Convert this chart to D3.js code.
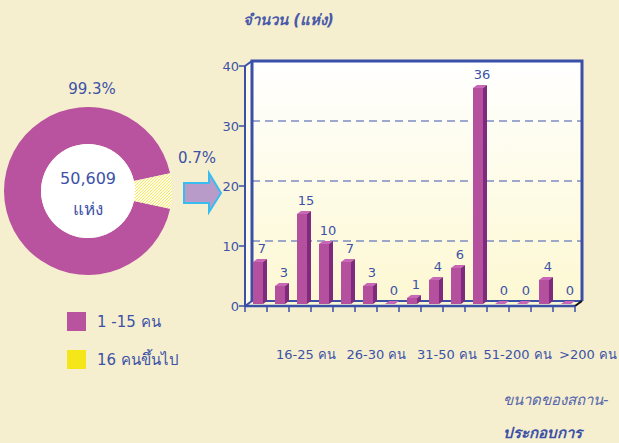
<!DOCTYPE html>
<html><head><meta charset="utf-8">
<script src="https://cdn.jsdelivr.net/npm/d3@7"></script>
<style>
html,body{margin:0;padding:0;background:#F5EFD0;}
svg{display:block;font-family:"DejaVu Sans","Noto Sans",sans-serif;}
</style></head>
<body>
<svg id="c" width="619" height="443"></svg>
<script>
// ---- data ----
const pieLabels = ["1 -15 คน", "16 คนขึ้นไป"];
const pieShares = [99.3, 0.7];
const pieTotal = "50,609";
const pieUnit = "แห่ง";
const barValues = [7, 3, 15, 10, 7, 3, 0, 1, 4, 6, 36, 0, 0, 4, 0];
const groupLabels = ["16-25 คน", "26-30 คน", "31-50 คน", "51-200 คน", ">200 คน"];
const yTicks = [0, 10, 20, 30, 40];
const yTitle = "จำนวน (แห่ง)";
const xTitle1 = "ขนาดของสถาน-";
const xTitle2 = "ประกอบการ";

const TXT = "#3D52A6";
const PURPLE = "#B9529F";
const YELLOW = "#F5E61A";
const svg = d3.select("#c");
const defs = svg.append("defs");

// hatch pattern for small slice
const pat = defs.append("pattern").attr("id","hatch").attr("patternUnits","userSpaceOnUse")
  .attr("width",3).attr("height",3);
pat.append("rect").attr("width",3).attr("height",3).attr("fill","#FFFDE6");
pat.append("path").attr("d","M-1,1 l2,-2 M0,3 l3,-3 M2,4 l2,-2").attr("stroke","#F0E45A").attr("stroke-width",0.9);

const grad = defs.append("linearGradient").attr("id","wall").attr("x1",0).attr("y1",0).attr("x2",0).attr("y2",1);
grad.append("stop").attr("offset","0%").attr("stop-color","#FFFFFF");
grad.append("stop").attr("offset","100%").attr("stop-color","#FDF8D2");

// ---- donut ----
const cx = 88, cy = 191, rIn = 47, rOut = 84;
const minShare = 7.2; // minimum displayed share so the tiny slice is visible
const pieData = pieShares.map((v,i)=>({label:pieLabels[i], value:v, shown:Math.max(v,minShare)}));
const smallAng = pieData[1].shown / d3.sum(pieData, d=>d.shown) * 2*Math.PI;
const pie = d3.pie().sort(null).value(d=>d.shown)
  .startAngle(Math.PI/2 + smallAng/2).endAngle(Math.PI/2 + smallAng/2 + 2*Math.PI);
const arc = d3.arc().innerRadius(rIn).outerRadius(rOut);
const g = svg.append("g").attr("transform",`translate(${cx},${cy})`);
g.selectAll("path.sl").data(pie(pieData)).join("path").attr("class","sl")
  .attr("d",arc).attr("fill",(d,i)=> i===0 ? PURPLE : "url(#hatch)");
g.append("circle").attr("r",rIn).attr("fill","#fff");
g.append("text").attr("y",-7).attr("text-anchor","middle").attr("font-size",16).attr("fill",TXT).text(pieTotal);
g.append("text").attr("y",24).attr("text-anchor","middle").attr("font-size",17).attr("fill",TXT).text(pieUnit);
svg.append("text").attr("x",92).attr("y",94).attr("text-anchor","middle").attr("font-size",15).attr("fill",TXT)
  .text(d3.format(".1f")(pieShares[0])+"%");
svg.append("text").attr("x",197).attr("y",163).attr("text-anchor","middle").attr("font-size",15).attr("fill",TXT)
  .text(d3.format(".1f")(pieShares[1])+"%");

// arrow
svg.append("path").attr("d","M184,183 L209,183 L209,173 L221,193 L209,212 L209,203 L184,203 Z")
  .attr("fill","#B99BCA").attr("stroke","#38BDF0").attr("stroke-width",2).attr("stroke-linejoin","miter");

// legend
const leg = svg.append("g");
[PURPLE, YELLOW].forEach((c,i)=>{
  leg.append("rect").attr("x",67).attr("y",312+i*38).attr("width",19).attr("height",19).attr("fill",c);
  leg.append("text").attr("x",97).attr("y",327+i*38).attr("font-size",15).attr("fill",TXT).text(pieLabels[i]);
});

// ---- bar chart ----
const dx = 7, dy = -5;
const y = d3.scaleLinear().domain([0,40]).range([306,66]);
const x = d3.scaleBand().domain(d3.range(barValues.length)).range([245,575]).paddingInner(0).paddingOuter(0);
const x0 = 245, x1 = 575;

// back wall
svg.append("rect").attr("x",x0+dx).attr("y",y(40)+dy).attr("width",x1-x0).attr("height",y(0)-y(40))
  .attr("fill","url(#wall)");
// floor
svg.append("path").attr("d",`M${x0},${y(0)} L${x1},${y(0)} L${x1+dx},${y(0)+dy} L${x0+dx},${y(0)+dy} Z`)
  .attr("fill","#FDF8D2");
// left side wall
svg.append("path").attr("d",`M${x0},${y(40)} L${x0+dx},${y(40)+dy} L${x0+dx},${y(0)+dy} L${x0},${y(0)} Z`)
  .attr("fill","#FDFBEA");
// gridlines
svg.selectAll("line.grid").data(yTicks.filter(t=>t>0 && t<40)).join("line").attr("class","grid")
  .attr("x1",x0+dx).attr("x2",x1+dx).attr("y1",d=>y(d)+dy).attr("y2",d=>y(d)+dy)
  .attr("stroke","#7D8CC2").attr("stroke-width",1.3).attr("stroke-dasharray","8,5");
// wall borders
const AX = "#3A4FA6";
svg.append("path").attr("d",`M${x0+dx},${y(0)+dy} L${x0+dx},${y(40)+dy} L${x1+dx},${y(40)+dy} L${x1+dx},${y(0)+dy}`)
  .attr("fill","none").attr("stroke",AX).attr("stroke-width",3);
svg.append("line").attr("x1",x0+dx).attr("x2",x1+dx).attr("y1",y(0)+dy).attr("y2",y(0)+dy)
  .attr("stroke",AX).attr("stroke-width",2);

// bars
const bw = 10, bdx = 4, bdy = -3, off = 8, lift = 2;
const bars = svg.append("g").selectAll("g").data(barValues).join("g");
bars.append("path").attr("fill","#C767B5").attr("d",(v,i)=>{
  const l = x(i)+off, t = y(v)-lift;
  return `M${l},${t} L${l+bdx},${t+bdy} L${l+bw+bdx},${t+bdy} L${l+bw},${t} Z`;
});
bars.append("path").attr("fill","#7E2B7D").attr("d",(v,i)=>{
  const l = x(i)+off+bw, t = y(v)-lift, b = y(0)-lift;
  return `M${l},${t} L${l+bdx},${t+bdy} L${l+bdx},${b+bdy} L${l},${b} Z`;
});
bars.append("rect").attr("fill","#B5509F")
  .attr("x",(v,i)=>x(i)+off).attr("y",v=>y(v)-lift).attr("width",bw).attr("height",v=>y(0)-y(v));
bars.append("text").attr("x",(v,i)=>x(i)+off+bw/2+4).attr("y",v=>y(v)-lift-9)
  .attr("text-anchor","middle").attr("font-size",13).attr("fill",TXT).text(v=>v);

// front axes
svg.append("line").attr("x1",x0).attr("x2",x0).attr("y1",y(40)).attr("y2",y(0)).attr("stroke",AX).attr("stroke-width",2);
svg.append("line").attr("x1",x0).attr("x2",x1).attr("y1",y(0)).attr("y2",y(0)).attr("stroke",AX).attr("stroke-width",2.5);
svg.append("line").attr("x1",x0).attr("x2",x0+dx).attr("y1",y(40)).attr("y2",y(40)+dy).attr("stroke",AX).attr("stroke-width",2);
svg.append("line").attr("x1",x0).attr("x2",x0+dx).attr("y1",y(0)).attr("y2",y(0)+dy).attr("stroke",AX).attr("stroke-width",2);
svg.append("line").attr("x1",x1).attr("x2",x1+dx).attr("y1",y(0)).attr("y2",y(0)+dy).attr("stroke","#111").attr("stroke-width",2);

// y ticks
svg.selectAll("line.yt").data(yTicks).join("line").attr("class","yt")
  .attr("x1",x0-6).attr("x2",x0).attr("y1",d=>y(d)).attr("y2",d=>y(d)).attr("stroke",AX).attr("stroke-width",1.5);
svg.selectAll("text.yl").data(yTicks).join("text").attr("class","yl")
  .attr("x",x0-6).attr("y",d=>y(d)+5).attr("text-anchor","end").attr("font-size",13).attr("fill",TXT).text(d=>d);
// x ticks
svg.selectAll("line.xt").data(d3.range(barValues.length+1)).join("line").attr("class","xt")
  .attr("x1",i=>x0+i*x.step()).attr("x2",i=>x0+i*x.step()).attr("y1",y(0)).attr("y2",y(0)+6)
  .attr("stroke",AX).attr("stroke-width",1.5);

// group labels
const gx = d3.scalePoint().domain(groupLabels).range([306,588]);
svg.selectAll("text.gl").data(groupLabels).join("text").attr("class","gl")
  .attr("x",d=>gx(d)).attr("y",359).attr("text-anchor","middle").attr("font-size",13).attr("fill",TXT).text(d=>d);

// titles
svg.append("text").attr("x",243).attr("y",25).attr("font-size",15).attr("font-style","italic").attr("font-weight","bold")
  .attr("fill","#4A5AA8").text(yTitle);
svg.append("text").attr("x",503).attr("y",405).attr("font-size",15).attr("font-style","italic")
  .attr("fill","#5566AA").text(xTitle1);
svg.append("text").attr("x",503).attr("y",438).attr("font-size",15).attr("font-style","italic").attr("font-weight","bold")
  .attr("fill","#3D52A6").text(xTitle2);
</script>
</body></html>
